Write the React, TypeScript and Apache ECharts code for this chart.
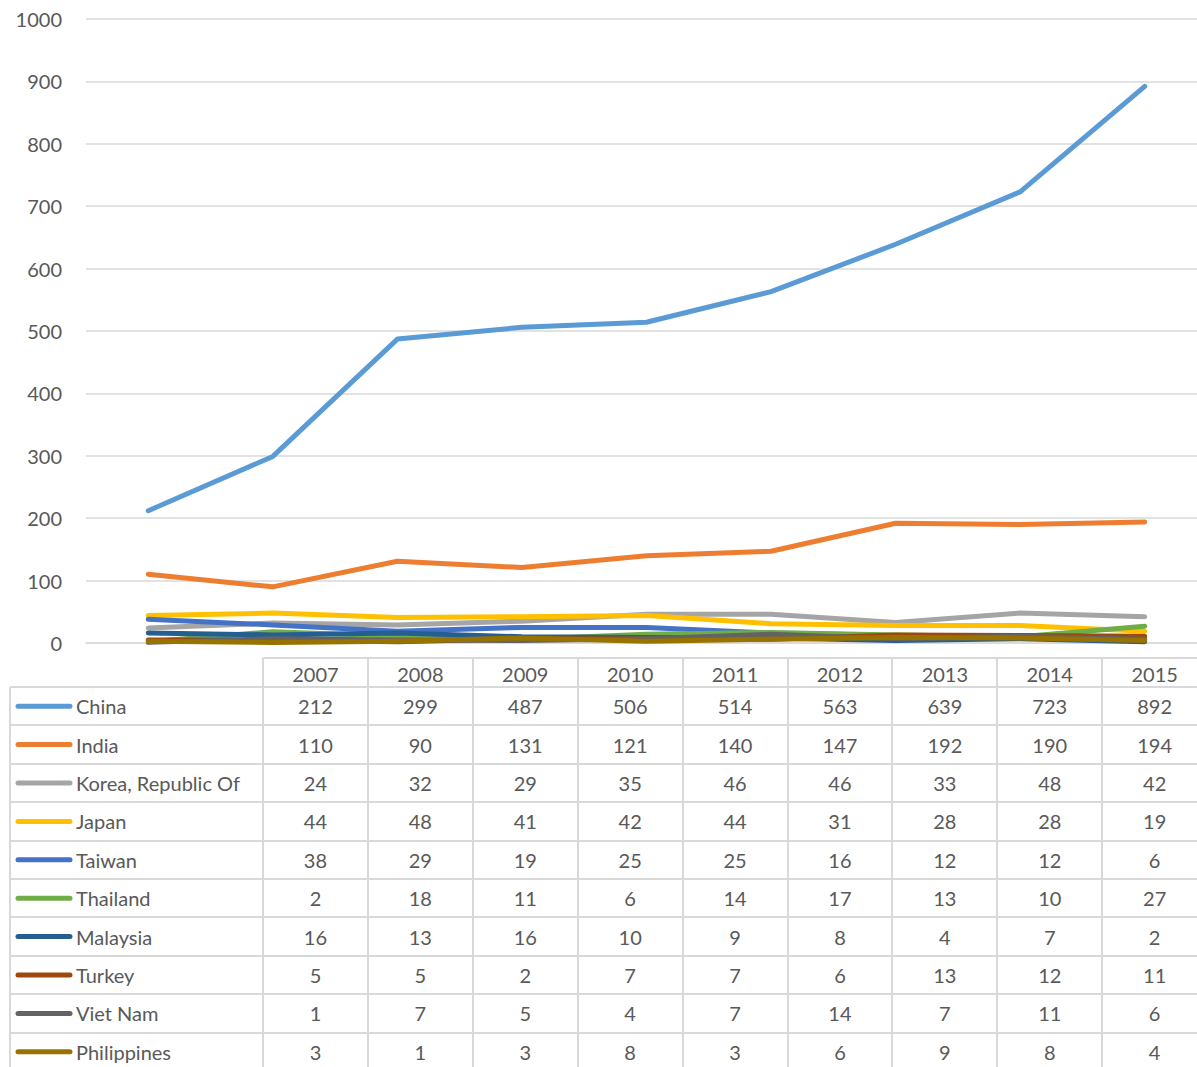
import React, { useEffect, useRef } from "react";
import * as echarts from "echarts";

const years = ["2007", "2008", "2009", "2010", "2011", "2012", "2013", "2014", "2015"];
const countries = ["China", "India", "Korea, Republic Of", "Japan", "Taiwan", "Thailand", "Malaysia", "Turkey", "Viet Nam", "Philippines"];
const colors = ["#5B9BD5", "#ED7D31", "#A5A5A5", "#FFC000", "#4472C4", "#70AD47", "#255E91", "#9E480E", "#636363", "#997300"];
const china = [212, 299, 487, 506, 514, 563, 639, 723, 892];
const india = [110, 90, 131, 121, 140, 147, 192, 190, 194];
const korea = [24, 32, 29, 35, 46, 46, 33, 48, 42];
const japan = [44, 48, 41, 42, 44, 31, 28, 28, 19];
const taiwan = [38, 29, 19, 25, 25, 16, 12, 12, 6];
const thailand = [2, 18, 11, 6, 14, 17, 13, 10, 27];
const malaysia = [16, 13, 16, 10, 9, 8, 4, 7, 2];
const turkey = [5, 5, 2, 7, 7, 6, 13, 12, 11];
const vietNam = [1, 7, 5, 4, 7, 14, 7, 11, 6];
const philippines = [3, 1, 3, 8, 3, 6, 9, 8, 4];
const seriesData = [china, india, korea, japan, taiwan, thailand, malaysia, turkey, vietNam, philippines];
const yTicks = [0, 100, 200, 300, 400, 500, 600, 700, 800, 900, 1000];

const FONT = "Lato, 'Open Sans', sans-serif";
const TEXT = "#595959";
const BORDER = "#D9D9D9";
const CANVAS_W = 1220;

export default function App() {
  const ref = useRef<HTMLDivElement>(null);
  useEffect(() => {
    if (!ref.current) return;
    const chart = echarts.init(ref.current, undefined, { renderer: "svg" });

    const tableTop = 658;
    const headerBottom = 687;
    const rowH = 38.4;
    const labelColRight = 263;
    const colW = 104.9;
    const tableLeft = 10;
    const W = 1197;
    const els: any[] = [];
    els.push({ type: "line", shape: { x1: labelColRight, y1: tableTop, x2: W, y2: tableTop }, style: { stroke: BORDER, lineWidth: 2 } });
    for (let i = 0; i <= years.length; i++) {
      const x = Math.round(labelColRight + i * colW);
      els.push({ type: "line", shape: { x1: x, y1: tableTop, x2: x, y2: 1067 }, style: { stroke: BORDER, lineWidth: 2 } });
    }
    els.push({ type: "line", shape: { x1: tableLeft, y1: headerBottom, x2: tableLeft, y2: 1067 }, style: { stroke: BORDER, lineWidth: 2 } });
    for (let r = 0; r <= countries.length; r++) {
      const y = Math.round(headerBottom + r * rowH);
      els.push({ type: "line", shape: { x1: tableLeft, y1: y, x2: W, y2: y }, style: { stroke: BORDER, lineWidth: 2 } });
    }
    years.forEach((yr, i) => {
      els.push({ type: "text", x: labelColRight + (i + 0.5) * colW, y: (tableTop + headerBottom) / 2 + 1, style: { text: yr, fill: TEXT, font: `20px ${FONT}`, align: "center", verticalAlign: "middle" } });
    });
    countries.forEach((c, r) => {
      const cy = headerBottom + (r + 0.5) * rowH;
      els.push({ type: "line", shape: { x1: 18, y1: cy, x2: 70, y2: cy }, style: { stroke: colors[r], lineWidth: 5, lineCap: "round" } });
      els.push({ type: "text", x: 76, y: cy, style: { text: c, fill: TEXT, font: `20px ${FONT}`, align: "left", verticalAlign: "middle" } });
      seriesData[r].forEach((v, i) => {
        els.push({ type: "text", x: labelColRight + (i + 0.5) * colW, y: cy, style: { text: String(v), fill: TEXT, font: `20px ${FONT}`, align: "center", verticalAlign: "middle" } });
      });
    });

    chart.setOption({
      animation: false,
      backgroundColor: "#ffffff",
      grid: { left: 86, right: CANVAS_W - 1207, top: 19, height: 624, containLabel: false },
      xAxis: {
        type: "category",
        data: years,
        boundaryGap: true,
        axisLine: { show: true, lineStyle: { color: BORDER, width: 1.5 } },
        axisTick: { show: false },
        axisLabel: { show: false },
      },
      yAxis: {
        type: "value",
        min: yTicks[0],
        max: yTicks[yTicks.length - 1],
        interval: 100,
        axisLine: { show: false },
        axisTick: { show: false },
        axisLabel: { color: TEXT, fontSize: 20, fontFamily: FONT, margin: 24, formatter: (v: number) => String(v) },
        splitLine: { lineStyle: { color: BORDER, width: 1.5 } },
      },
      series: countries.map((c, i) => ({
        name: c,
        type: "line",
        data: seriesData[i],
        symbol: "none",
        lineStyle: { color: colors[i], width: 5, cap: "round", join: "round" },
        itemStyle: { color: colors[i] },
      })),
      graphic: els,
    });
    return () => chart.dispose();
  }, []);
  return (
    <div style={{ position: "absolute", left: 0, top: 0, width: 1197, height: 1067, overflow: "hidden", background: "#fff" }}>
      <div ref={ref} style={{ width: CANVAS_W, height: 1067 }} />
    </div>
  );
}
